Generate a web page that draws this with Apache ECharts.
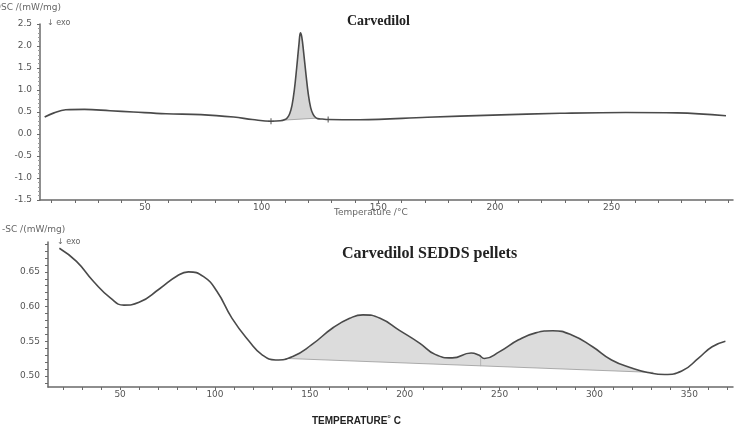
<!DOCTYPE html>
<html>
<head>
<meta charset="utf-8">
<script src="https://cdn.jsdelivr.net/npm/echarts@6/dist/echarts.min.js"></script>
<style>
  html, body { margin: 0; padding: 0; background: #fff; }
  #chart { width: 734px; height: 430px; }
</style>
</head>
<body>
<div id="chart"></div>
<script>
// DSC curves: [temperature °C, mW/mg]
const carvedilolCurve = [
    [7, 0.385], [11, 0.48], [16, 0.55], [24, 0.56], [35, 0.53], [45, 0.50], [59, 0.46],
    [74, 0.44], [88, 0.385], [96, 0.33], [104, 0.29], [108, 0.30], [110, 0.33], [111, 0.37],
    [112, 0.46], [113, 0.65], [114, 1.0], [115, 1.5], [116, 2.05], [116.6, 2.3], [117.2, 2.2],
    [118, 1.85], [119, 1.35], [120, 0.9], [121, 0.6], [122, 0.45], [123, 0.38], [124, 0.35],
    [126, 0.34], [128.5, 0.33], [142, 0.325], [171, 0.38], [199, 0.43], [228, 0.47],
    [256, 0.49], [278, 0.48], [299, 0.415]
];
const carvedilolBaseline = [[109.5, 0.315], [123.5, 0.36]];
const carvedilolMarks = [[104, 0.29], [128.5, 0.33]];

const peddsCurve = [
    [18, 0.684], [27, 0.665], [36, 0.636], [45, 0.612], [52, 0.602], [60, 0.606], [71, 0.626],
    [80, 0.644], [86, 0.650], [94, 0.643], [101, 0.622], [109, 0.583], [118, 0.550], [125, 0.530],
    [132, 0.523], [141, 0.528], [151, 0.545], [162, 0.569], [171, 0.583], [178, 0.588],
    [187, 0.583], [197, 0.566], [208, 0.547], [216, 0.531], [225, 0.526], [235, 0.533],
    [239, 0.530], [242, 0.525], [250, 0.535], [260, 0.552], [269, 0.562], [278, 0.565],
    [288, 0.559], [299, 0.542], [309, 0.523], [320, 0.511], [328, 0.505], [337, 0.502],
    [346, 0.507], [355, 0.526], [362, 0.542], [369, 0.550]
];
const peddsBaseline = [[139, 0.525], [331, 0.505]];
const peddsSplit = [[240, 0.514], [240, 0.526]];

// axis labels / ticks
const topXLabels = [50, 100, 150, 200, 250];
const topXTicks = [10, 20, 30, 40, 50, 60, 70, 80, 90, 100, 110, 120, 130, 140, 150,
    160, 170, 180, 190, 200, 210, 220, 230, 240, 250, 260, 270, 280, 290, 300];
const botXLabels = [50, 100, 150, 200, 250, 300, 350];
const botXTicks = [20, 30, 40, 50, 60, 70, 80, 90, 100, 110, 120, 130, 140, 150, 160, 170,
    180, 190, 200, 210, 220, 230, 240, 250, 260, 270, 280, 290, 300, 310, 320, 330, 340,
    350, 360, 370];
const botYLabels = [0.50, 0.55, 0.60, 0.65];
const botYTicks = [0.49, 0.50, 0.51, 0.52, 0.53, 0.54, 0.55, 0.56, 0.57, 0.58, 0.59,
    0.60, 0.61, 0.62, 0.63, 0.64, 0.65, 0.66, 0.67, 0.68, 0.69];

const lineColor = '#4a4a4a';
const axisColor = '#6a6a6a';
const labelStyle = { fontSize: 9, color: '#555', fontFamily: 'DejaVu Sans' };

// area under the peak, taken from the curve itself
function between(data, from, to) {
    return data.filter(p => p[0] >= from && p[0] <= to);
}

const chart = echarts.init(document.getElementById('chart'));

const option = {
    animation: false,
    backgroundColor: '#fff',
    grid: [
        { left: 40, right: 1, top: 24, bottom: 230 },
        { left: 48, right: 1, top: 242, bottom: 43 }
    ],
    xAxis: [
        {
            gridIndex: 0, type: 'value', min: 5, max: 302, z: 10,
            axisLine: { onZero: false, lineStyle: { color: axisColor, width: 1.5 } },
            axisTick: { customValues: topXTicks, length: 3, lineStyle: { color: axisColor } },
            axisLabel: Object.assign({ customValues: topXLabels, margin: 3 }, labelStyle),
            splitLine: { show: false }
        },
        {
            gridIndex: 1, type: 'value', min: 12, max: 373, z: 10,
            axisLine: { onZero: false, lineStyle: { color: axisColor, width: 1.5 } },
            axisTick: { customValues: botXTicks, length: 3, lineStyle: { color: axisColor } },
            axisLabel: Object.assign({ customValues: botXLabels, margin: 3 }, labelStyle),
            splitLine: { show: false }
        }
    ],
    yAxis: [
        {
            gridIndex: 0, type: 'value', min: -1.5, max: 2.5, interval: 0.5, z: 10,
            axisLine: { show: true, onZero: false, lineStyle: { color: axisColor, width: 1.5 } },
            axisTick: { show: true, length: 3, lineStyle: { color: axisColor } },
            minorTick: { show: true, splitNumber: 5, length: 2, lineStyle: { color: '#999' } },
            axisLabel: Object.assign({ margin: 8, formatter: v => v.toFixed(1) }, labelStyle),
            splitLine: { show: false }
        },
        {
            gridIndex: 1, type: 'value', min: 0.484, max: 0.693, z: 10,
            axisLine: { show: true, onZero: false, lineStyle: { color: axisColor, width: 1.5 } },
            axisTick: { show: true, customValues: botYTicks, length: 3, lineStyle: { color: axisColor } },
            axisLabel: Object.assign({ customValues: botYLabels, margin: 8, formatter: v => v.toFixed(2) }, labelStyle),
            splitLine: { show: false }
        }
    ],
    series: [
        // --- Carvedilol ---
        {
            type: 'line', xAxisIndex: 0, yAxisIndex: 0, z: 1, silent: true,
            data: between(carvedilolCurve, 110, 123), smooth: true, symbol: 'none',
            lineStyle: { width: 0 }, areaStyle: { color: '#d6d6d6', opacity: 1, origin: 'start' }
        },
        {
            type: 'line', xAxisIndex: 0, yAxisIndex: 0, z: 2, silent: true,
            data: carvedilolBaseline, symbol: 'none',
            lineStyle: { width: 0.8, color: '#999' }, areaStyle: { color: '#fff', opacity: 1, origin: 'start' }
        },
        {
            type: 'line', xAxisIndex: 0, yAxisIndex: 0, z: 3,
            data: carvedilolCurve, smooth: 0.4, symbol: 'none',
            lineStyle: { width: 1.6, color: lineColor }
        },
        {
            type: 'scatter', xAxisIndex: 0, yAxisIndex: 0, z: 4,
            data: carvedilolMarks, symbol: 'path://M2,0H3V2H5V3H3V5H2V3H0V2H2Z', symbolSize: 6,
            itemStyle: { color: lineColor }
        },
        // --- Carvedilol SEDDS pellets ---
        {
            type: 'line', xAxisIndex: 1, yAxisIndex: 1, z: 1, silent: true,
            data: between(peddsCurve, 139, 331), smooth: true, symbol: 'none',
            lineStyle: { width: 0 }, areaStyle: { color: '#dcdcdc', opacity: 1, origin: 'start' }
        },
        {
            type: 'line', xAxisIndex: 1, yAxisIndex: 1, z: 2, silent: true,
            data: peddsBaseline, symbol: 'none',
            lineStyle: { width: 0.8, color: '#999' }, areaStyle: { color: '#fff', opacity: 1, origin: 'start' }
        },
        {
            type: 'line', xAxisIndex: 1, yAxisIndex: 1, z: 2, silent: true,
            data: peddsSplit, symbol: 'none',
            lineStyle: { width: 0.8, color: '#aaa' }
        },
        {
            type: 'line', xAxisIndex: 1, yAxisIndex: 1, z: 3,
            data: peddsCurve, smooth: true, symbol: 'none',
            lineStyle: { width: 1.6, color: lineColor }
        }
    ],
    graphic: [
        { type: 'text', left: -6, top: 3, style: { text: 'DSC /(mW/mg)', fontSize: 9, fill: '#666', fontFamily: 'DejaVu Sans' } },
        { type: 'text', left: 47, top: 19, style: { text: '↓ exo', fontSize: 8, fill: '#666', fontFamily: 'DejaVu Sans' } },
        { type: 'text', left: 347, top: 14, style: { text: 'Carvedilol', fontSize: 14, fontWeight: 'bold', fill: '#222', fontFamily: 'Liberation Serif' } },
        { type: 'text', left: 334, top: 208, style: { text: 'Temperature /°C', fontSize: 9, fill: '#666', fontFamily: 'DejaVu Sans' } },
        { type: 'text', left: 2, top: 225, style: { text: '-SC /(mW/mg)', fontSize: 9, fill: '#666', fontFamily: 'DejaVu Sans' } },
        { type: 'text', left: 57, top: 238, style: { text: '↓ exo', fontSize: 8, fill: '#666', fontFamily: 'DejaVu Sans' } },
        { type: 'text', left: 342, top: 246, style: { text: 'Carvedilol SEDDS pellets', fontSize: 16, fontWeight: 'bold', fill: '#222', fontFamily: 'Liberation Serif' } },
        {
            type: 'text', left: 312, top: 414,
            style: {
                text: '{a|TEMPERATURE}{s|°}{a| C}',
                rich: {
                    a: { fontSize: 10, fontWeight: 'bold', fill: '#222', fontFamily: 'Liberation Sans Narrow, Liberation Sans' },
                    s: { fontSize: 9, fontWeight: 'bold', fill: '#222', verticalAlign: 'top', padding: [0, 0, 6, 0] }
                }
            }
        }
    ]
};

chart.setOption(option);
</script>
</body>
</html>
